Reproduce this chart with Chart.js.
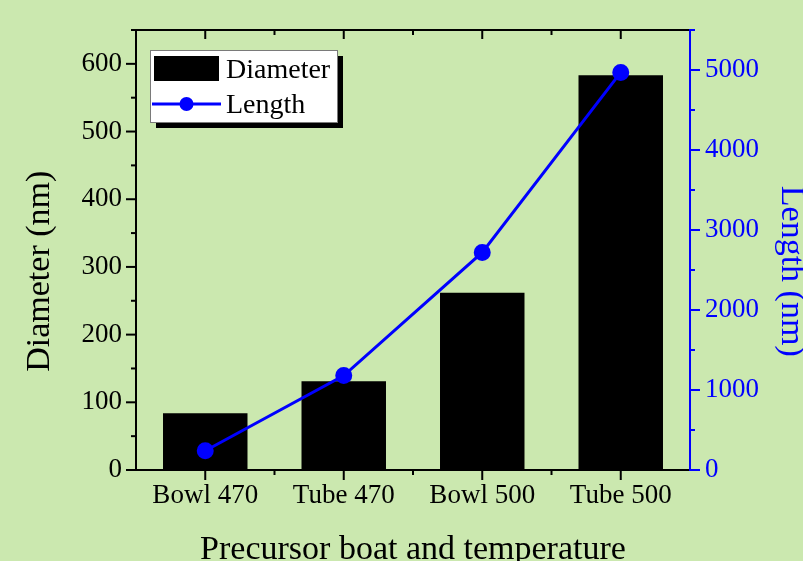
<!DOCTYPE html>
<html><head><meta charset="utf-8">
<script src="https://cdn.jsdelivr.net/npm/chart.js@4.4.0/dist/chart.umd.min.js"></script>
<style>html,body{margin:0;padding:0;background:#cbe8af;overflow:hidden}canvas{display:block}</style>
</head><body><canvas id="c" width="803" height="561"></canvas>
<script>
const categories = ['Bowl 470', 'Tube 470', 'Bowl 500', 'Tube 500'];
const diameterValues = [84, 131, 262, 583];
const lengthValues = [240, 1180, 2720, 4970];
const diameterTicks = [0, 100, 200, 300, 400, 500, 600];
const diameterMinorTicks = [50, 150, 250, 350, 450, 550, 650];
const lengthTicks = [0, 1000, 2000, 3000, 4000, 5000];
const lengthMinorTicks = [500, 1500, 2500, 3500, 4500, 5500];

const BG = '#cbe8af';
const BLUE = '#0000ff';
const FONT = "'Liberation Serif', 'Times New Roman', serif";

const bgPlugin = {
  id: 'bg',
  beforeDraw(chart) {
    const ctx = chart.ctx;
    ctx.save();
    ctx.fillStyle = BG;
    ctx.fillRect(0, 0, chart.width, chart.height);
    ctx.restore();
  }
};

const tickPlugin = {
  id: 'tickMarks',
  afterDatasetsDraw(chart) {
    const ctx = chart.ctx;
    const x = chart.scales.x, y = chart.scales.y, y1 = chart.scales.y1;
    const ca = chart.chartArea;
    ctx.save();
    ctx.lineWidth = 2;
    ctx.lineCap = 'butt';
    function seg(x0, y0, x1, y2, color) {
      ctx.strokeStyle = color;
      ctx.beginPath(); ctx.moveTo(x0, y0); ctx.lineTo(x1, y2); ctx.stroke();
    }
    diameterTicks.forEach(v => { const p = y.getPixelForValue(v); seg(ca.left, p, ca.left - 10, p, '#000'); });
    diameterMinorTicks.forEach(v => { const p = y.getPixelForValue(v); seg(ca.left, p, ca.left - 5, p, '#000'); });
    lengthTicks.forEach(v => { const p = y1.getPixelForValue(v); seg(ca.right, p, ca.right + 10, p, BLUE); });
    lengthMinorTicks.forEach(v => { const p = y1.getPixelForValue(v); seg(ca.right, p, ca.right + 5, p, BLUE); });
    categories.forEach((c, i) => {
      const p = x.getPixelForValue(i);
      seg(p, ca.bottom, p, ca.bottom + 10, '#000');
      seg(p, ca.top, p, ca.top + 9, '#000');
      if (i < categories.length - 1) {
        const m = (p + x.getPixelForValue(i + 1)) / 2;
        seg(m, ca.bottom, m, ca.bottom + 5, '#000');
        seg(m, ca.top, m, ca.top + 5, '#000');
      }
    });
    ctx.restore();
  }
};

const legendPlugin = {
  id: 'boxLegend',
  afterDraw(chart) {
    const ctx = chart.ctx;
    const bx = 150, by = 50, bw = 187, bh = 72;
    ctx.save();
    ctx.fillStyle = '#000';
    ctx.fillRect(bx + 6, by + 6, bw, bh);
    ctx.fillStyle = '#fff';
    ctx.fillRect(bx, by, bw, bh);
    ctx.strokeStyle = '#7a7a7a';
    ctx.lineWidth = 1;
    ctx.strokeRect(bx + 0.5, by + 0.5, bw, bh);
    const ds = chart.data.datasets;
    ctx.fillStyle = ds[1].backgroundColor;
    ctx.fillRect(154, 56, 65, 25);
    ctx.strokeStyle = ds[0].borderColor;
    ctx.lineWidth = 3;
    ctx.beginPath(); ctx.moveTo(152, 104); ctx.lineTo(221, 104); ctx.stroke();
    ctx.fillStyle = ds[0].pointBackgroundColor;
    ctx.beginPath(); ctx.arc(186.5, 104, 7, 0, Math.PI * 2); ctx.fill();
    ctx.fillStyle = '#000';
    ctx.font = '28px ' + FONT;
    ctx.textBaseline = 'alphabetic';
    ctx.textAlign = 'left';
    ctx.fillText(ds[1].label, 226, 78);
    ctx.fillText(ds[0].label, 226, 113);
    ctx.restore();
  }
};

new Chart(document.getElementById('c'), {
  data: {
    labels: categories,
    datasets: [
      {
        type: 'line', label: 'Length', data: lengthValues, yAxisID: 'y1', xAxisID: 'x',
        borderColor: BLUE, backgroundColor: BLUE, pointBackgroundColor: BLUE,
        pointBorderColor: BLUE, borderWidth: 3, pointRadius: 7, pointHoverRadius: 7,
        tension: 0, order: 0, clip: false
      },
      {
        type: 'bar', label: 'Diameter', data: diameterValues, yAxisID: 'y', xAxisID: 'x',
        backgroundColor: '#000', borderColor: '#000', borderWidth: 0,
        barPercentage: 0.61, categoryPercentage: 1.0, order: 1
      }
    ]
  },
  options: {
    responsive: false,
    animation: false,
    devicePixelRatio: 1,
    layout: { padding: 0 },
    plugins: { legend: { display: false }, tooltip: { enabled: false } },
    scales: {
      x: {
        type: 'category', position: 'bottom', offset: true,
        grid: { drawOnChartArea: false, tickLength: 10, tickColor: 'rgba(0,0,0,0)' },
        border: { color: '#000', width: 2 },
        ticks: { color: '#000', font: { family: FONT, size: 27 }, padding: 0, maxRotation: 0, autoSkip: false },
        title: { display: true, text: 'Precursor boat and temperature', color: '#000',
                 font: { family: FONT, size: 34 }, padding: { top: 0, bottom: -9 } },
        afterFit(s) { s.height = 91; }
      },
      x2: {
        type: 'category', position: 'top', offset: true, labels: categories,
        grid: { drawOnChartArea: false, drawTicks: false },
        border: { color: '#000', width: 2 },
        ticks: { display: false },
        afterFit(s) { s.height = 30; }
      },
      y: {
        type: 'linear', position: 'left', min: 0, max: 650,
        afterBuildTicks(s) { s.ticks = diameterTicks.map(v => ({ value: v })); },
        grid: { drawOnChartArea: false, tickLength: 10, tickColor: 'rgba(0,0,0,0)' },
        border: { color: '#000', width: 2 },
        ticks: { color: '#000', font: { family: FONT, size: 27 }, padding: 4, callback: v => String(v) },
        title: { display: true, text: 'Diameter (nm)     ', color: '#000',
                 font: { family: FONT, size: 34 }, padding: { top: 20, bottom: 0 } },
        afterFit(s) { s.width = 136; }
      },
      y1: {
        type: 'linear', position: 'right', min: 0, max: 5500,
        afterBuildTicks(s) { s.ticks = lengthTicks.map(v => ({ value: v })); },
        grid: { drawOnChartArea: false, tickLength: 10, tickColor: 'rgba(0,0,0,0)' },
        border: { color: BLUE, width: 2 },
        ticks: { color: BLUE, font: { family: FONT, size: 27 }, padding: 5, callback: v => String(v) },
        title: { display: true, text: '     Length (nm)', color: BLUE,
                 font: { family: FONT, size: 34 }, padding: { top: -8, bottom: 0 } },
        afterFit(s) { s.width = 113; }
      }
    }
  },
  plugins: [bgPlugin, tickPlugin, legendPlugin]
});
</script>
</body></html>
